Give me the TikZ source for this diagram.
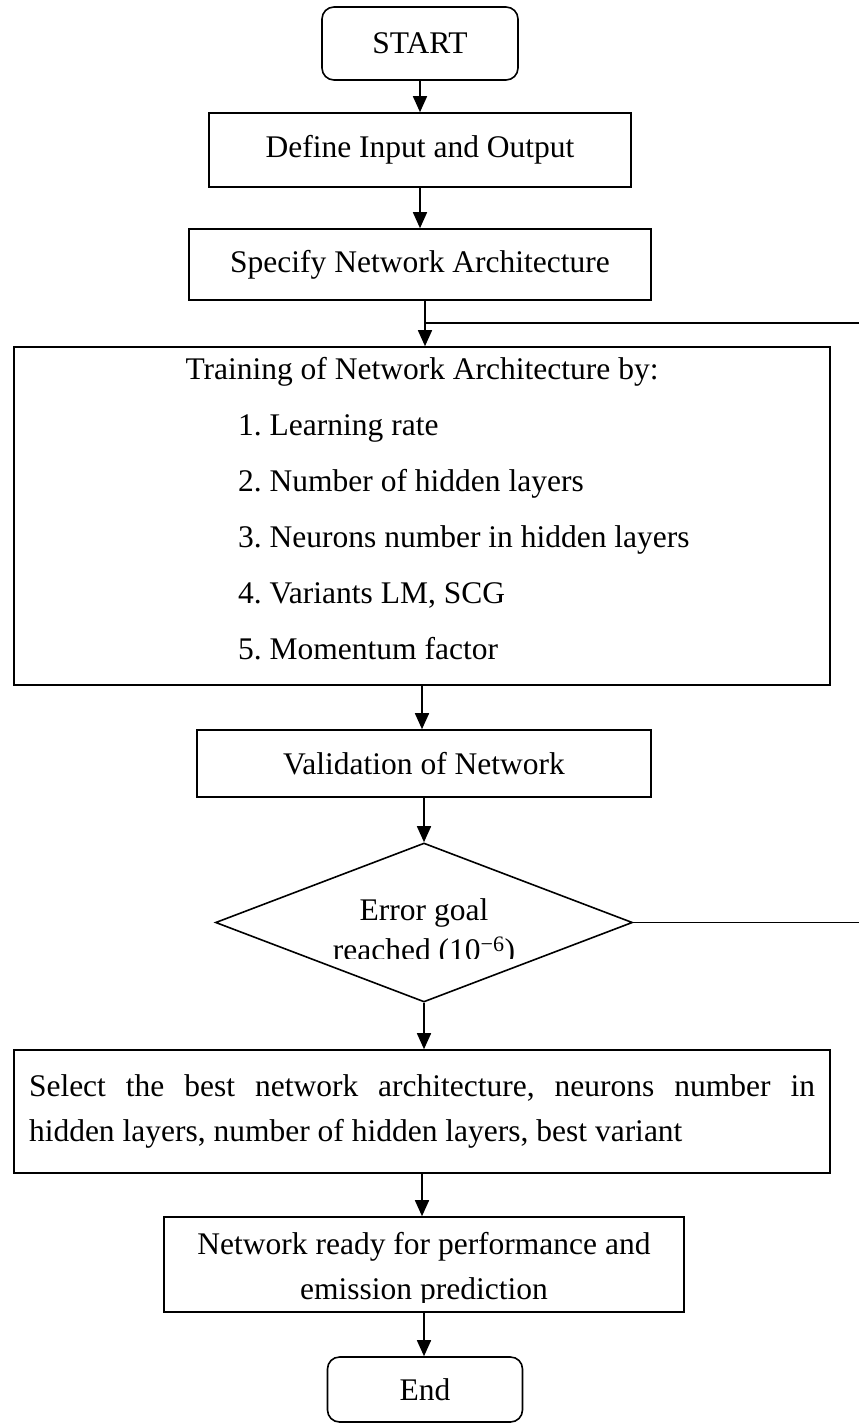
\documentclass[tikz,border=0pt]{standalone}
\usepackage{fontspec}
\setmainfont{Liberation Serif}
\usetikzlibrary{positioning}
\usetikzlibrary{calc}
\usetikzlibrary{shapes.geometric}
\usepgflibrary{arrows.meta}

\tikzset{
  box/.style={draw, line width=1.6pt, inner sep=0pt, align=center},
  term/.style={box, rounded corners=12pt},
  decision/.style={draw, diamond, line width=1.6pt, inner sep=0pt},
  item/.style={anchor=west, inner sep=0pt, text height=0.7em, text depth=0.25em},
  flow/.style={line width=1.6pt, -{Triangle[length=16pt, width=14pt]}},
  wire/.style={line width=1.6pt},
}

\begin{document}
\begin{tikzpicture}[x=1pt, y=-1pt, font=\fontsize{31.5}{45}\selectfont\frenchspacing]
    \useasboundingbox (0,0) rectangle (859,1425);

    \node[term, minimum width=196pt, minimum height=73pt] (start) at (420,43.5) {START};
    \node[box, minimum width=422pt, minimum height=74pt] (define) at (420,150) {Define Input and Output};
    \node[box, minimum width=462pt, minimum height=71pt] (spec) at (420,264.5) {Specify Network Architecture};

    % training block with its list
    \node[box, minimum width=816pt, minimum height=338pt] (train) at (422,516) {};
    \node[item, anchor=center] (title) at (422,377) {Training of Network Architecture by:};
    \foreach \txt [count=\i] in {Learning rate, Number of hidden layers, Neurons number in hidden layers, {Variants LM, SCG}, Momentum factor}
      \node[item] (item\i) at (238, 377+56*\i) {\i. \txt};

    \node[box, minimum width=454pt, minimum height=67pt] (valid) at (424,763.5) {Validation of Network};

    \node[decision, minimum width=417pt, minimum height=159pt] (goal) at (424,922.5) {};
    \begin{scope}
      \clip (215,843) rectangle (632,958);
      \node[align=center, inner sep=0pt] (goaltext) at (424,933) {Error goal\\[-5pt]reached (10\textsuperscript{−6})};
    \end{scope}

    \node[box, text width=786pt, inner xsep=15pt, align=justify, minimum height=123pt] (select) at (422,1111.5)
      {Select the best network architecture, neurons number in\linebreak hidden layers, number of hidden layers, best variant};

    \node[box, minimum width=520pt, minimum height=95pt] (ready) at (424,1264.5) {};
    \begin{scope}
      \clip (163,1217) rectangle (683,1302);
      \node[align=center, inner sep=0pt] (readytext) at (424,1269.5) {Network ready for performance and\\emission prediction};
    \end{scope}

    \node[term, minimum width=195pt, minimum height=65pt] (end) at (425,1389.5) {End};

    % connectors
    \coordinate (entry) at ($(train.north)+(3,0)$);
    \path[draw, flow] (start.south) -- (start.south |- define.north);
    \path[draw, flow] (define.south) -- (define.south |- spec.north);
    \path[draw, flow] (entry |- spec.south) -- (entry);
    \path[draw, flow] (train.south) -- (train.south |- valid.north);
    \path[draw, flow] (valid.south) -- (valid.south |- goal.north);
    \path[draw, flow] (goal.south) -- (goal.south |- select.north);
    \path[draw, flow] (select.south) -- (select.south |- ready.north);
    \path[draw, flow] (ready.south) -- (ready.south |- end.north);

    % lines running off to the right
    \coordinate (tap) at (425,323);
    \coordinate (back) at (859,323);
    \path[draw, wire] (tap) -- (back);
    \coordinate (exit) at (859,922.5);
    \path[draw, wire] (goal.east) -- (exit);
\end{tikzpicture}
\end{document}
